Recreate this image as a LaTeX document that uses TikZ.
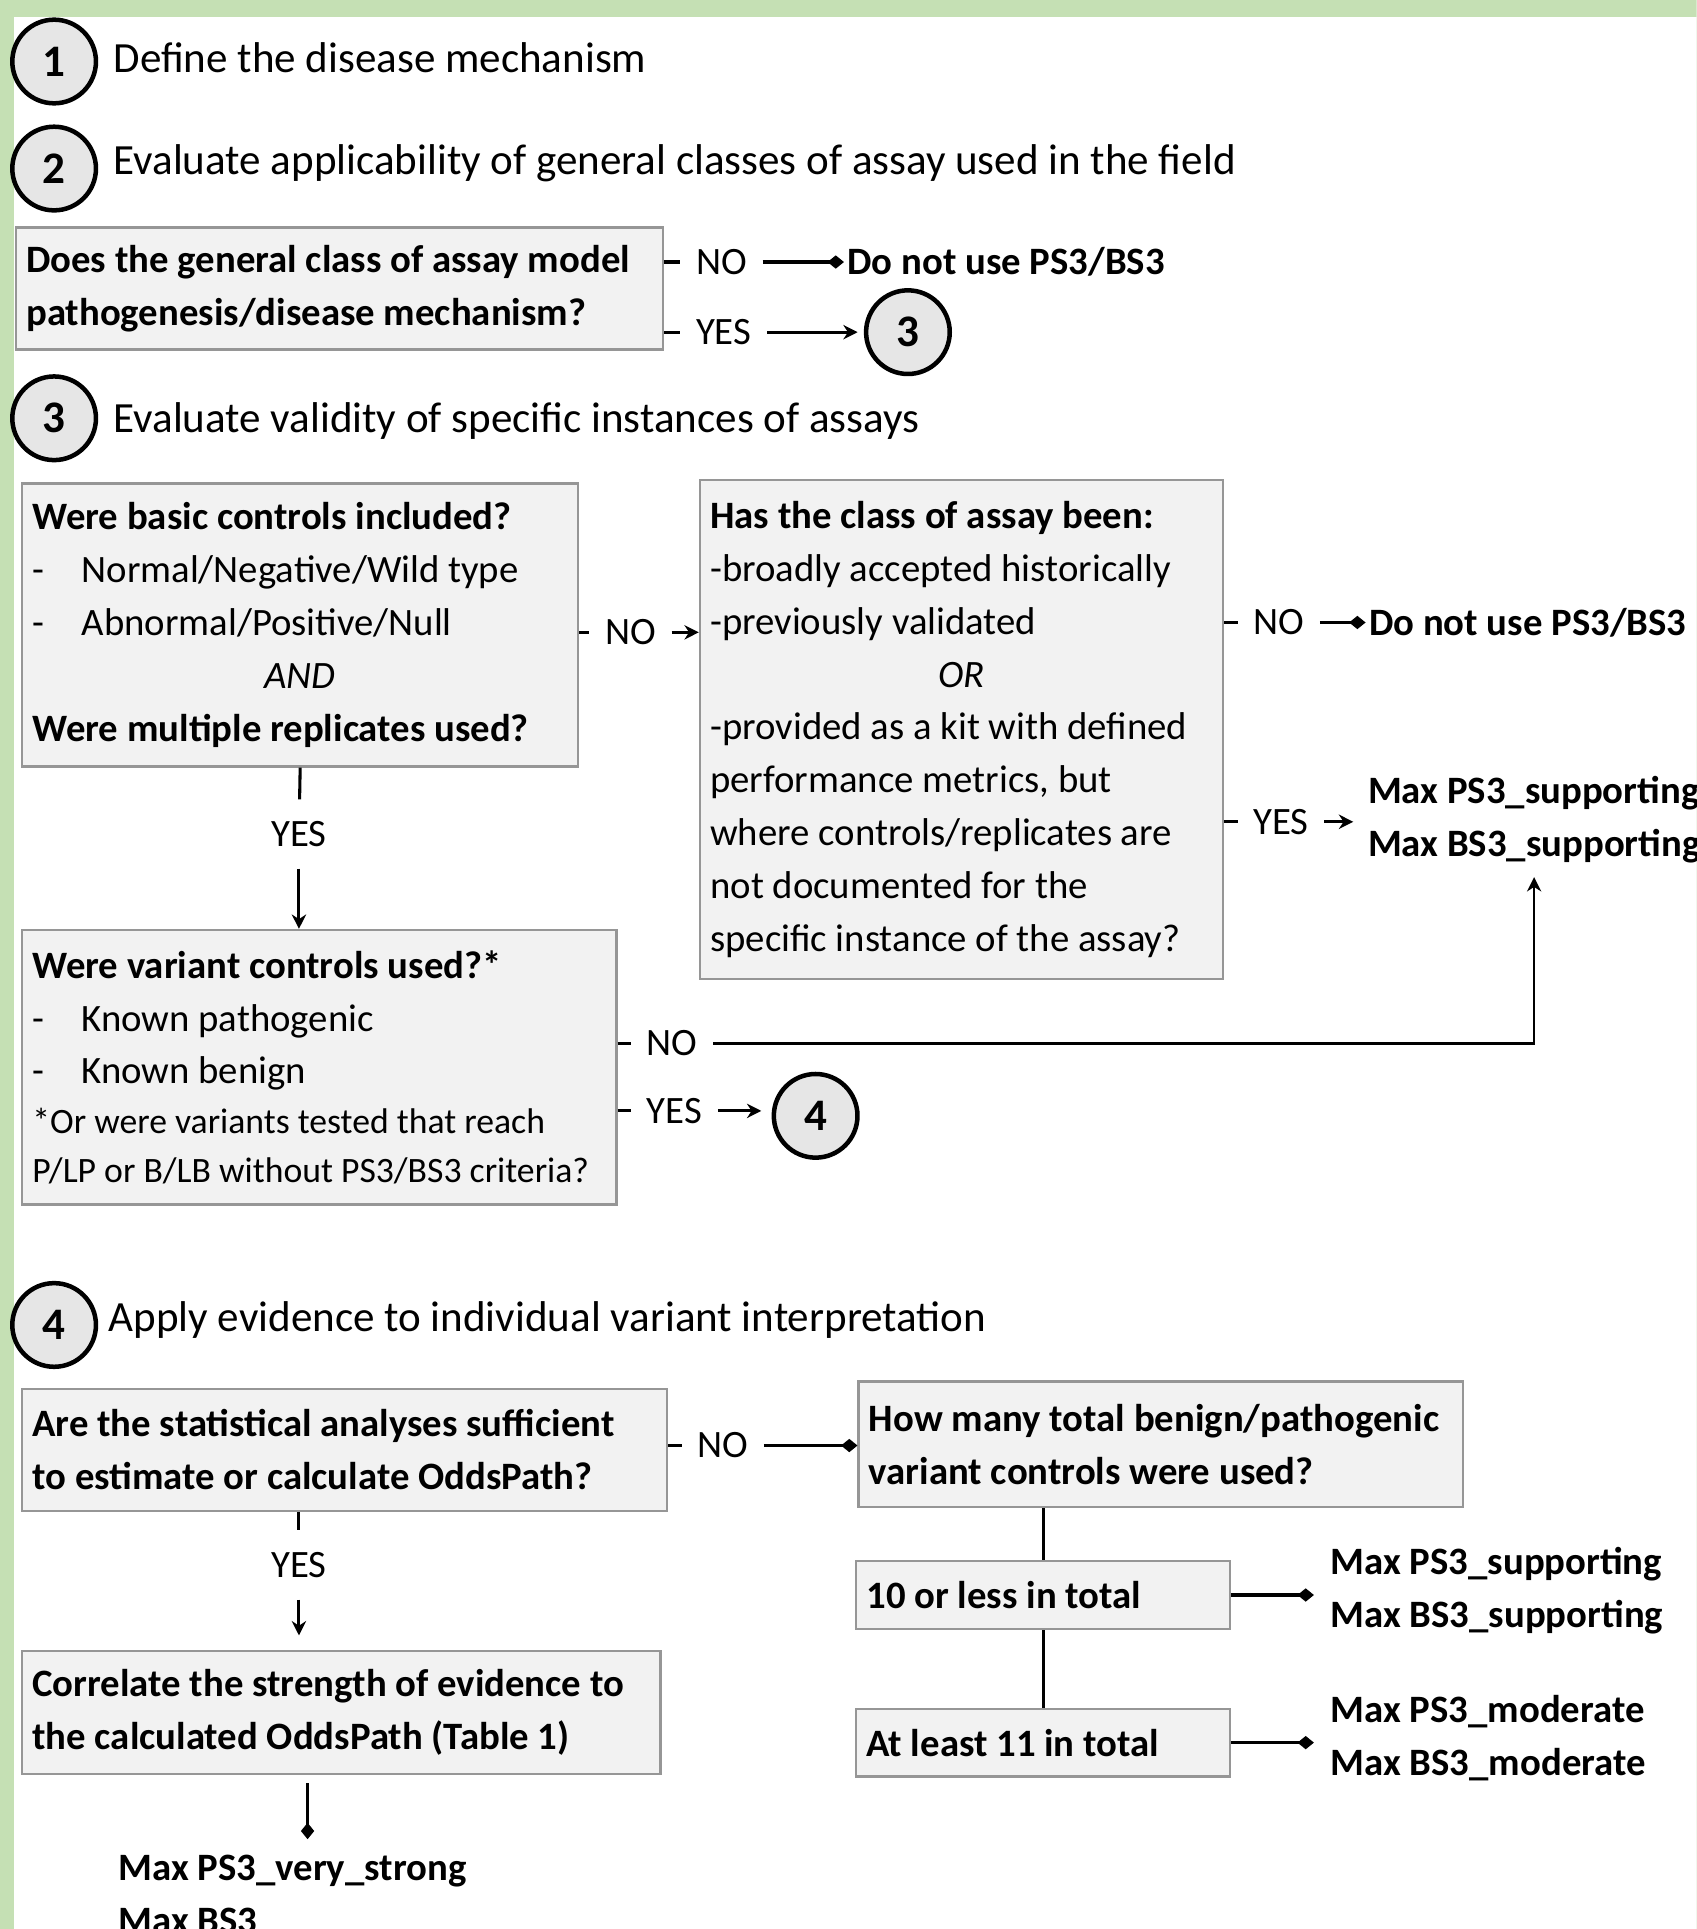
\documentclass[tikz,border=0pt]{standalone}
\usepackage{fontspec}
\setmainfont{Carlito}
\usetikzlibrary{arrows.meta}
\newcommand{\headfont}{\fontsize{21}{25}\selectfont}
\newcommand{\boxfont}{\fontsize{18.9}{25.8}\selectfont}
\newcommand{\notefont}{\fontsize{17.4}{24}\selectfont}
\newcommand{\bul}{\makebox[24pt][l]{-}}
\definecolor{framegreen}{HTML}{C5E0B4}
\definecolor{boxfill}{HTML}{F2F2F2}
\definecolor{boxline}{HTML}{969696}
\definecolor{stepfill}{HTML}{E6E6E6}

\begin{document}
\begin{tikzpicture}[x=0.6pt,y=-0.6pt,
  every node/.style={font=\boxfont},
  qbox/.style={draw=boxline,line width=1.2pt,fill=boxfill,anchor=north west,align=flush left,inner xsep=5pt,inner ysep=0pt},
  qboxb/.style={qbox,font=\boxfont\bfseries},
  stepno/.style={circle,draw,line width=2.2pt,fill=stepfill,minimum size=40.8pt,inner sep=0pt,font=\fontsize{22}{26}\selectfont\bfseries},
  headtext/.style={anchor=west,inner sep=0pt,font=\headfont},
  lbl/.style={anchor=west,inner xsep=7.5pt,inner ysep=1pt},
  vlbl/.style={inner xsep=0pt,inner ysep=10.5pt},
  outcome/.style={anchor=west,align=flush left,inner xsep=1.5pt,inner ysep=1pt,font=\boxfont\bfseries},
  conn/.style={line width=1.5pt},
  stip/.style={conn,-{Stealth[length=7pt,width=7pt]}},
  dtip/.style={conn,-{Diamond[length=8pt,width=6.5pt]}}]
  \useasboundingbox (0,0) rectangle (1379,1568);
  \clip (0,0) rectangle (1379,1568);
  \fill[framegreen] (0,0) rectangle (1379,1568);
  \fill[white] (11,14) rectangle (1379,1568);

  \node[stepno] (s1) at (44,50) {1};
  \node[headtext] (h1) at (92,47) {Define the disease mechanism};
  \node[stepno] (s2) at (44,137) {2};
  \node[headtext] (h2) at (92,133) {Evaluate applicability of general classes of assay used in the field};

  \node[qboxb,text width=305.6pt,minimum height=59.4pt] (qmodel) at (12,184) {Does the general class of assay model\\pathogenesis/disease mechanism?};
  \node[lbl] (no1) at (553,213) {NO};
  \node[lbl] (yes1) at (553,270) {YES};
  \node[outcome] (nouse1) at (686,213) {Do not use PS3/BS3};
  \node[stepno] (goto3) at (738,270) {3};
  \draw[conn] (qmodel.east |- no1) -- (no1);
  \draw[dtip] (no1.east) -- (no1.east -| nouse1.west);
  \draw[conn] (qmodel.east |- yes1) -- (yes1);
  \draw[stip,shorten >=3pt] (yes1.east) -- (goto3);

  \node[stepno] (s3) at (44,340) {3};
  \node[headtext] (h3) at (92,342) {Evaluate validity of specific instances of assays};

  \node[qbox,text width=261.2pt,minimum height=138pt] (qbasic) at (17,392) {\textbf{Were basic controls included?}\\\bul Normal/Negative/Wild type\\\bul Abnormal/Positive/Null\\\makebox[\hsize]{\itshape AND}\\\textbf{Were multiple replicates used?}};
  \node[qbox,text width=245pt,minimum height=243.6pt] (qclass) at (568,389) {\textbf{Has the class of assay been:}\\-broadly accepted historically\\-previously validated\\\makebox[\hsize]{\itshape OR}\\-provided as a kit with defined\\performance metrics, but\\where controls/replicates are\\not documented for the\\specific instance of the assay?};
  \node[lbl] (no2) at (479,514) {NO};
  \draw[conn] (qbasic.east |- no2) -- (no2);
  \draw[stip] (no2.east) -- (no2.east -| qclass.west);

  \node[lbl] (no3) at (1006,506) {NO};
  \node[outcome] (nouse2) at (1110,506) {Do not use PS3/BS3};
  \node[lbl] (yes2) at (1006,668) {YES};
  \node[outcome,inner xsep=7pt] (maxsup1) at (1100,666) {Max PS3\_supporting\\Max BS3\_supporting};
  \draw[conn] (qclass.east |- no3) -- (no3);
  \draw[dtip] (no3.east) -- (no3.east -| nouse2.west);
  \draw[conn] (qclass.east |- yes2) -- (yes2);
  \draw[stip] (yes2.east) -- (yes2.east -| maxsup1.west);

  \node[vlbl] (yes3) at (243,678) {YES};
  \node[qbox,text width=279.8pt,minimum height=133.8pt] (qvariant) at (17,755) {\textbf{Were variant controls used?*}\\\bul Known pathogenic\\\bul Known benign\\[-1.5pt]{\notefont *Or were variants tested that reach}\\[-2pt]{\notefont P/LP or B/LB without PS3/BS3 criteria?}};
  \draw[conn] (qbasic.south) -- (yes3);
  \draw[stip] (yes3.south) -- (yes3.south |- qvariant.north);

  \node[lbl] (no4) at (513,848) {NO};
  \coordinate (supin) at (1247,713);
  \draw[conn] (qvariant.east |- no4) -- (no4);
  \draw[stip,line width=1.3pt] (no4.east) -| (supin);
  \node[lbl] (yes4) at (513,903) {YES};
  \node[stepno] (goto4) at (663,907) {4};
  \draw[conn] (qvariant.east |- yes4) -- (yes4);
  \draw[stip,shorten >=5pt] (yes4.east) -- (yes4.east -| goto4.west);

  \node[stepno] (s4) at (44,1077) {4};
  \node[headtext] (h4) at (88,1073) {Apply evidence to individual variant interpretation};

  \node[qboxb,text width=304.4pt,minimum height=59.4pt] (qstats) at (17,1128) {Are the statistical analyses sufficient\\to estimate or calculate OddsPath?};
  \node[lbl] (no5) at (554,1175) {NO};
  \node[qboxb,text width=284.6pt,minimum height=61.2pt] (qtotal) at (697,1122) {How many total benign/pathogenic\\variant controls were used?};
  \draw[conn] (qstats.east |- no5) -- (no5);
  \draw[dtip] (no5.east) -- (no5.east -| qtotal.west);

  \node[qboxb,text width=172.4pt,minimum height=33pt] (tless) at (695,1268) {10 or less in total};
  \node[qboxb,text width=172.4pt,minimum height=33pt] (tleast) at (695,1388) {At least 11 in total};
  \node[outcome,inner xsep=8pt] (maxsup2) at (1068,1293) {Max PS3\_supporting\\Max BS3\_supporting};
  \node[outcome,inner xsep=8pt] (maxmod) at (1068,1413) {Max PS3\_moderate\\Max BS3\_moderate};
  \draw[conn] (tless.north |- qtotal.south) -- (tless.north);
  \draw[conn] (tless.south) -- (tleast.north);
  \draw[dtip] (tless.east) -- (tless.east -| maxsup2.west);
  \draw[dtip] (tleast.east) -- (tleast.east -| maxmod.west);

  \node[vlbl] (yes5) at (243,1272) {YES};
  \node[qboxb,text width=301.4pt,minimum height=60pt] (qcorr) at (17,1341) {Correlate the strength of evidence to\\the calculated OddsPath (Table 1)};
  \draw[conn] (qstats.south -| yes5) -- (yes5);
  \draw[stip,shorten >=7pt] (yes5.south) -- (yes5.south |- qcorr.north);

  \node[outcome] (maxvs) at (93.5,1540) {Max PS3\_very\_strong\\Max BS3};
  \coordinate (vsend) at (250,1495);
  \draw[dtip,shorten <=4pt] (qcorr.south -| vsend) -- (vsend);
\end{tikzpicture}
\end{document}
